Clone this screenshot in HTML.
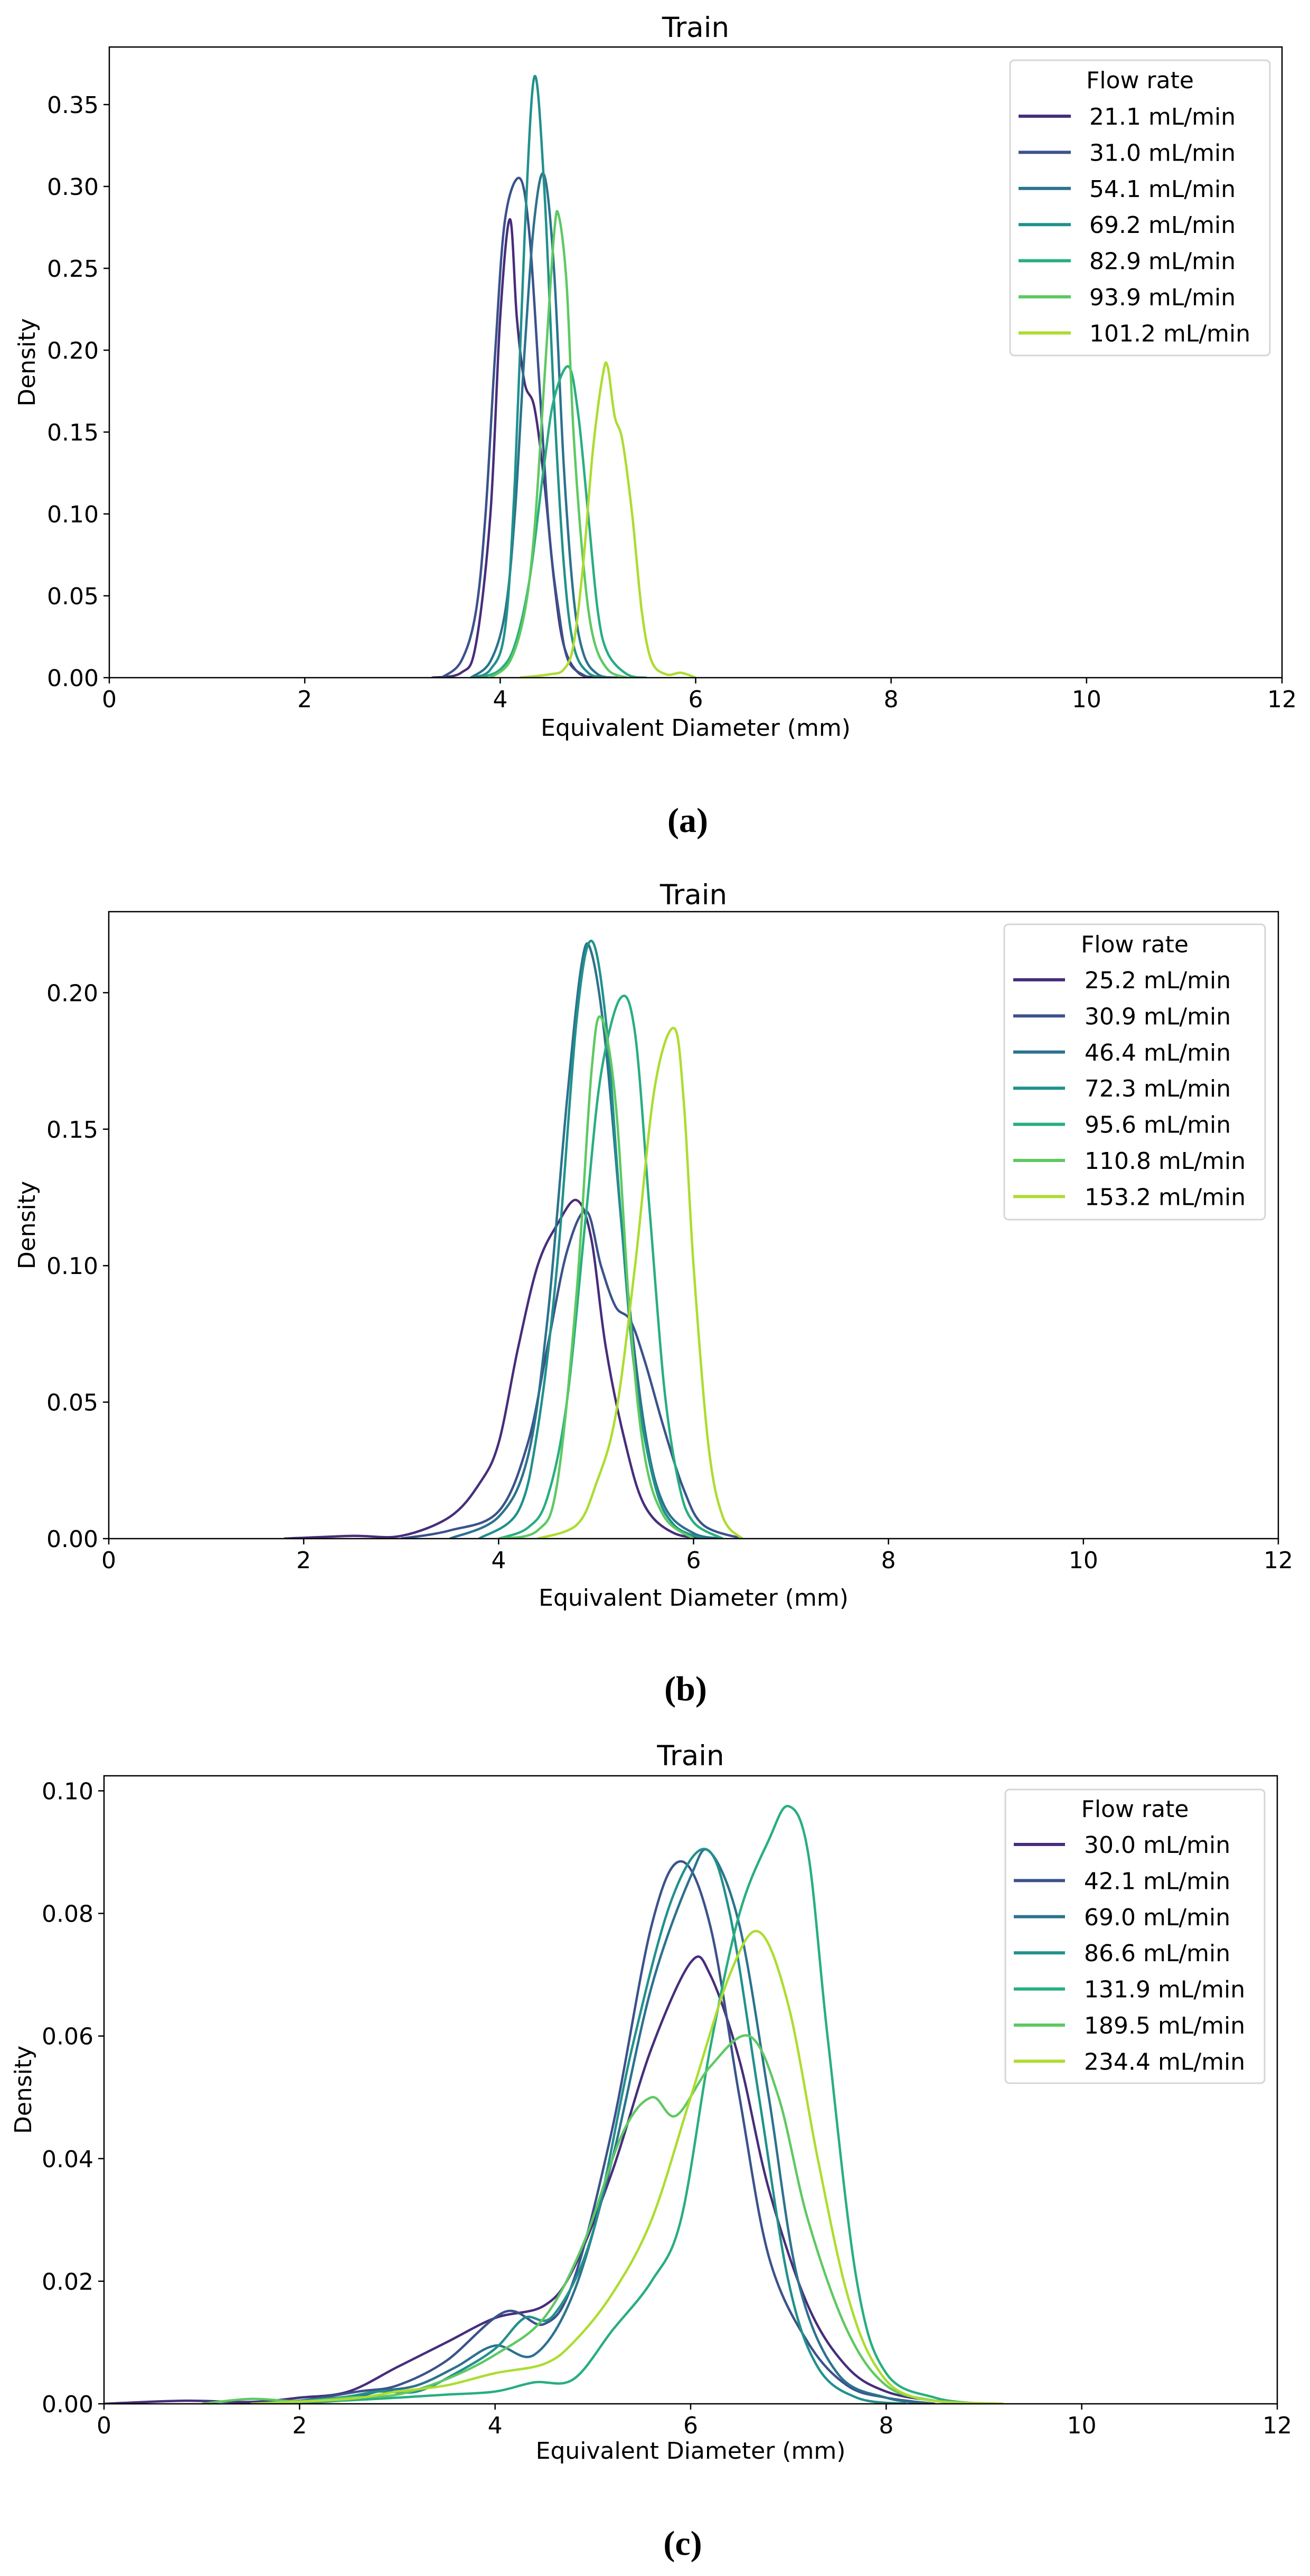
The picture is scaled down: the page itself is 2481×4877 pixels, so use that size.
<!DOCTYPE html>
<html><head><meta charset="utf-8"><style>
html,body{margin:0;padding:0;background:#fff;}
svg{display:block;}
text{font-family:"DejaVu Sans","Liberation Sans",sans-serif;fill:#000;}
</style></head>
<body>
<svg id="fig" xmlns="http://www.w3.org/2000/svg" width="2481" height="4877" viewBox="0 0 2481 4877"></svg>
<script>
const colors = ['#472d7b','#3b528b','#2c728e','#21918c','#28ae80','#5ec962','#addc30'];
const xTicks = [0,2,4,6,8,10,12];

const aLabels = ['21.1 mL/min','31.0 mL/min','54.1 mL/min','69.2 mL/min','82.9 mL/min','93.9 mL/min','101.2 mL/min'];
const aYTicks = [0,0.05,0.10,0.15,0.20,0.25,0.30,0.35];
const a0 = [[3.3,0],[3.6,0.003],[3.75,0.02],[3.9,0.1],[4.0,0.22],[4.1,0.28],[4.17,0.22],[4.25,0.18],[4.35,0.165],[4.45,0.12],[4.55,0.06],[4.65,0.02],[4.8,0.003],[5.0,0]];
const a1 = [[3.4,0],[3.6,0.01],[3.75,0.04],[3.85,0.1],[3.95,0.2],[4.05,0.28],[4.2,0.305],[4.3,0.27],[4.4,0.18],[4.5,0.09],[4.6,0.04],[4.7,0.01],[4.9,0]];
const a2 = [[3.7,0],[3.9,0.01],[4.05,0.04],[4.15,0.1],[4.25,0.2],[4.35,0.28],[4.45,0.307],[4.55,0.25],[4.65,0.13],[4.75,0.05],[4.85,0.015],[5.0,0.002],[5.2,0]];
const a3 = [[3.7,0],[3.9,0.005],[4.05,0.03],[4.15,0.12],[4.25,0.27],[4.35,0.367],[4.45,0.3],[4.55,0.17],[4.65,0.07],[4.75,0.02],[4.9,0.003],[5.1,0]];
const a4 = [[3.8,0],[4.0,0.005],[4.15,0.02],[4.3,0.06],[4.45,0.13],[4.55,0.17],[4.7,0.19],[4.8,0.16],[4.9,0.1],[5.0,0.04],[5.1,0.015],[5.3,0.002],[5.5,0]];
const a5 = [[3.9,0],[4.1,0.01],[4.25,0.04],[4.35,0.09],[4.45,0.18],[4.55,0.27],[4.6,0.282],[4.68,0.24],[4.75,0.15],[4.85,0.07],[4.95,0.025],[5.1,0.005],[5.3,0]];
const a6 = [[4.2,0],[4.5,0.002],[4.65,0.005],[4.75,0.02],[4.85,0.07],[4.95,0.14],[5.05,0.185],[5.1,0.19],[5.17,0.16],[5.25,0.145],[5.35,0.1],[5.45,0.04],[5.55,0.01],[5.7,0.002],[5.85,0.003],[6.0,0]];

const bLabels = ['25.2 mL/min','30.9 mL/min','46.4 mL/min','72.3 mL/min','95.6 mL/min','110.8 mL/min','153.2 mL/min'];
const bYTicks = [0,0.05,0.10,0.15,0.20];
const b0 = [[1.8,0],[2.5,0.001],[3.0,0.001],[3.5,0.008],[3.8,0.02],[4.0,0.035],[4.2,0.07],[4.4,0.1],[4.6,0.115],[4.8,0.124],[4.95,0.11],[5.1,0.07],[5.3,0.035],[5.5,0.012],[5.8,0.002],[6.2,0]];
const b1 = [[3.0,0],[3.5,0.003],[4.0,0.01],[4.3,0.035],[4.5,0.07],[4.7,0.105],[4.9,0.12],[5.05,0.1],[5.2,0.085],[5.35,0.08],[5.5,0.065],[5.7,0.04],[5.9,0.018],[6.1,0.005],[6.5,0]];
const b2 = [[3.5,0],[4.0,0.008],[4.3,0.03],[4.5,0.08],[4.7,0.16],[4.85,0.21],[4.95,0.215],[5.1,0.18],[5.3,0.1],[5.5,0.04],[5.7,0.012],[6.0,0.002],[6.3,0]];
const b3 = [[3.8,0],[4.2,0.01],[4.4,0.04],[4.6,0.1],[4.8,0.19],[4.95,0.219],[5.1,0.19],[5.25,0.12],[5.4,0.06],[5.6,0.02],[5.8,0.005],[6.1,0]];
const b4 = [[4.0,0],[4.3,0.004],[4.5,0.015],[4.7,0.05],[4.9,0.12],[5.05,0.17],[5.25,0.198],[5.4,0.185],[5.55,0.12],[5.7,0.055],[5.85,0.02],[6.0,0.006],[6.3,0]];
const b5 = [[4.0,0],[4.4,0.003],[4.6,0.02],[4.8,0.09],[4.95,0.17],[5.05,0.191],[5.2,0.16],[5.35,0.08],[5.5,0.03],[5.7,0.008],[6.0,0]];
const b6 = [[4.4,0],[4.8,0.005],[5.0,0.02],[5.2,0.045],[5.4,0.1],[5.6,0.165],[5.8,0.187],[5.9,0.16],[6.0,0.1],[6.15,0.035],[6.3,0.008],[6.5,0]];

const cLabels = ['30.0 mL/min','42.1 mL/min','69.0 mL/min','86.6 mL/min','131.9 mL/min','189.5 mL/min','234.4 mL/min'];
const cYTicks = [0,0.02,0.04,0.06,0.08,0.10];
const c0 = [[0,0],[0.8,0.0005],[1.5,0.0003],[2.0,0.001],[2.5,0.002],[3.0,0.006],[3.5,0.01],[4.0,0.014],[4.5,0.016],[4.8,0.022],[5.2,0.038],[5.6,0.058],[6.0,0.072],[6.2,0.07],[6.5,0.056],[6.8,0.035],[7.2,0.016],[7.6,0.006],[8.0,0.002],[8.5,0.0005],[9,0]];
const c1 = [[1.5,0],[2.0,0.0005],[2.6,0.002],[3.0,0.003],[3.5,0.007],[4.1,0.015],[4.5,0.013],[4.8,0.02],[5.2,0.045],[5.6,0.078],[5.9,0.0885],[6.2,0.078],[6.5,0.05],[6.8,0.024],[7.2,0.01],[7.6,0.003],[8.0,0.001],[8.5,0]];
const c2 = [[1.5,0],[2.4,0.0005],[2.8,0.002],[3.2,0.003],[3.6,0.006],[4.0,0.0095],[4.4,0.008],[4.8,0.018],[5.2,0.04],[5.6,0.068],[6.0,0.086],[6.2,0.09],[6.5,0.078],[6.8,0.05],[7.1,0.02],[7.5,0.005],[8.0,0.001],[8.5,0]];
const c3 = [[1.5,0],[2.4,0.001],[2.8,0.002],[3.2,0.002],[3.6,0.005],[4.0,0.009],[4.3,0.014],[4.6,0.0145],[5.0,0.028],[5.4,0.058],[5.8,0.082],[6.15,0.0905],[6.4,0.08],[6.7,0.05],[7.0,0.02],[7.3,0.006],[7.7,0.001],[8.2,0]];
const c4 = [[1.5,0],[2.4,0.0005],[3.0,0.001],[3.5,0.0015],[4.0,0.002],[4.4,0.0035],[4.8,0.004],[5.2,0.012],[5.6,0.02],[5.9,0.03],[6.2,0.058],[6.5,0.08],[6.8,0.092],[7.0,0.0975],[7.2,0.09],[7.4,0.06],[7.7,0.02],[8.0,0.005],[8.5,0.001],[9,0]];
const c5 = [[1.0,0],[1.5,0.0008],[2.0,0.0004],[2.5,0.001],[3.0,0.0015],[3.5,0.004],[4.0,0.008],[4.5,0.014],[4.9,0.026],[5.3,0.044],[5.6,0.05],[5.85,0.047],[6.2,0.055],[6.6,0.06],[6.9,0.05],[7.2,0.03],[7.6,0.012],[8.0,0.003],[8.5,0.0005],[9,0]];
const c6 = [[1.5,0],[2.5,0.0008],[3.0,0.002],[3.5,0.003],[4.0,0.005],[4.5,0.0065],[4.8,0.01],[5.2,0.018],[5.6,0.03],[6.0,0.05],[6.4,0.07],[6.7,0.077],[7.0,0.065],[7.3,0.04],[7.6,0.018],[7.9,0.006],[8.3,0.001],[9.2,0]];

const NS='http://www.w3.org/2000/svg';
const svg=document.getElementById('fig');
function mk(tag,attrs,parent){const e=document.createElementNS(NS,tag);for(const k in attrs)e.setAttribute(k,attrs[k]);(parent||svg).appendChild(e);return e;}

function smoothPath(pts){
  let d='M'+pts[0][0].toFixed(1)+','+pts[0][1].toFixed(1);
  for(let i=0;i<pts.length-1;i++){
    const p0=pts[Math.max(0,i-1)],p1=pts[i],p2=pts[i+1],p3=pts[Math.min(pts.length-1,i+2)];
    const t=6;
    const c1=[p1[0]+(p2[0]-p0[0])/t,p1[1]+(p2[1]-p0[1])/t];
    const c2=[p2[0]-(p3[0]-p1[0])/t,p2[1]-(p3[1]-p1[1])/t];
    d+=' C'+c1[0].toFixed(1)+','+c1[1].toFixed(1)+' '+c2[0].toFixed(1)+','+c2[1].toFixed(1)+' '+p2[0].toFixed(1)+','+p2[1].toFixed(1);
  }
  return d;
}

function panel(cfg){
  const g=mk('g',{});
  
  
  const L=cfg.left,R=cfg.right,T=cfg.top,B=cfg.bottom;
  const xs=v=>L+(v/12)*(R-L);
  const ys=v=>B-(v/cfg.ymax)*(B-T);
  // clip
  const cp=mk('clipPath',{id:'clip-'+cfg.id},g);
  mk('rect',{x:L,y:T,width:R-L,height:B-T},cp);
  // series
  cfg.series.forEach((s,i)=>{
    const p=mk('path',{d:smoothPath(s.map(q=>[xs(q[0]),Math.min(B,ys(q[1]))])),fill:'none',stroke:colors[i],'stroke-width':4.5,'stroke-linejoin':'round','clip-path':'url(#clip-'+cfg.id+')'},g);
    
    
  });
  // frame
  const fr=mk('rect',{x:L,y:T,width:R-L,height:B-T,fill:'none',stroke:'#000','stroke-width':2.5},g);
  
  
  // x ticks
  xTicks.forEach(v=>{
    mk('line',{x1:xs(v),x2:xs(v),y1:B,y2:B+11,stroke:'#000','stroke-width':2.5},g);
    const t=mk('text',{x:xs(v),y:B+56,'font-size':44,'text-anchor':'middle'},g);
    t.textContent=String(v);
    
    
  });
  cfg.yticks.forEach(v=>{
    mk('line',{x1:L-11,x2:L,y1:ys(v),y2:ys(v),stroke:'#000','stroke-width':2.5},g);
    const t=mk('text',{x:L-20,y:ys(v)+16,'font-size':44,'text-anchor':'end'},g);
    t.textContent=v.toFixed(2);
    
    
  });
  const xl=mk('text',{x:(L+R)/2,y:cfg.xlabelY,'font-size':44,'text-anchor':'middle'},g);
  xl.textContent='Equivalent Diameter (mm)';
  
  
  const yl=mk('text',{x:0,y:0,'font-size':44,'text-anchor':'middle',transform:'translate('+(cfg.ylabelX)+','+((T+B)/2)+') rotate(-90)'},g);
  yl.textContent='Density';
  
  
  const ti=mk('text',{x:(L+R)/2,y:cfg.titleY,'font-size':53,'text-anchor':'middle'},g);
  ti.textContent='Train';
  
  
  // legend
  const lg=mk('g',{},g);
  
  
  const lgx=cfg.legend.x,lgy=cfg.legend.y;
  mk('rect',{x:lgx,y:lgy,width:cfg.legend.w,height:cfg.legend.h,rx:8,fill:'#fff','fill-opacity':0.8,stroke:'#d6d6d6','stroke-width':3},lg);
  const lt=mk('text',{x:lgx+cfg.legend.w/2,y:cfg.legend.titleY+16,'font-size':44,'text-anchor':'middle'},lg);
  lt.textContent='Flow rate';
  
  
  cfg.labels.forEach((lab,i)=>{
    const yy=cfg.legend.firstY+i*68.4;
    const e=mk('g',{},lg);
    
    
    mk('line',{x1:cfg.legend.lx1,x2:cfg.legend.lx2,y1:yy,y2:yy,stroke:colors[i],'stroke-width':6},e);
    const tx=mk('text',{x:cfg.legend.tx,y:yy+16,'font-size':44},e);
    tx.textContent=lab;
  });
  const cap=mk('text',{x:(L+R)/2-15,y:cfg.capY+22,'font-size':66,'font-weight':'bold','text-anchor':'middle','font-family':'"Liberation Serif",serif'},g);
  cap.setAttribute('style','font-family:"Liberation Serif",serif');
  cap.textContent=cfg.caption;
  
  
}

panel({id:'panel-a',left:207,right:2428,top:89,bottom:1283,ymax:(1283-89)/3100,yticks:aYTicks,series:[a0,a1,a2,a3,a4,a5,a6],labels:aLabels,
  xlabelY:1393,ylabelX:66,titleY:70,capY:1553,caption:'(a)',
  legend:{x:1913,y:114,w:492,h:559,titleY:151,firstY:220,lx1:1929,lx2:2028,tx:2063}});
panel({id:'panel-b',left:206,right:2421,top:1726,bottom:2913,ymax:(2913-1726)/5168,yticks:bYTicks,series:[b0,b1,b2,b3,b4,b5,b6],labels:bLabels,
  xlabelY:3040,ylabelX:66,titleY:1712,capY:3197,caption:'(b)',
  legend:{x:1902,y:1750,w:494,h:559,titleY:1787,firstY:1855,lx1:1919,lx2:2017,tx:2054}});
panel({id:'panel-c',left:197,right:2419,top:3362,bottom:4551,ymax:(4551-3362)/11605,yticks:cYTicks,series:[c0,c1,c2,c3,c4,c5,c6],labels:cLabels,
  xlabelY:4655,ylabelX:59,titleY:3342,capY:4815,caption:'(c)',
  legend:{x:1904,y:3388,w:491,h:556,titleY:3424,firstY:3492,lx1:1920,lx2:2017,tx:2053}});
</script>
</body></html>
